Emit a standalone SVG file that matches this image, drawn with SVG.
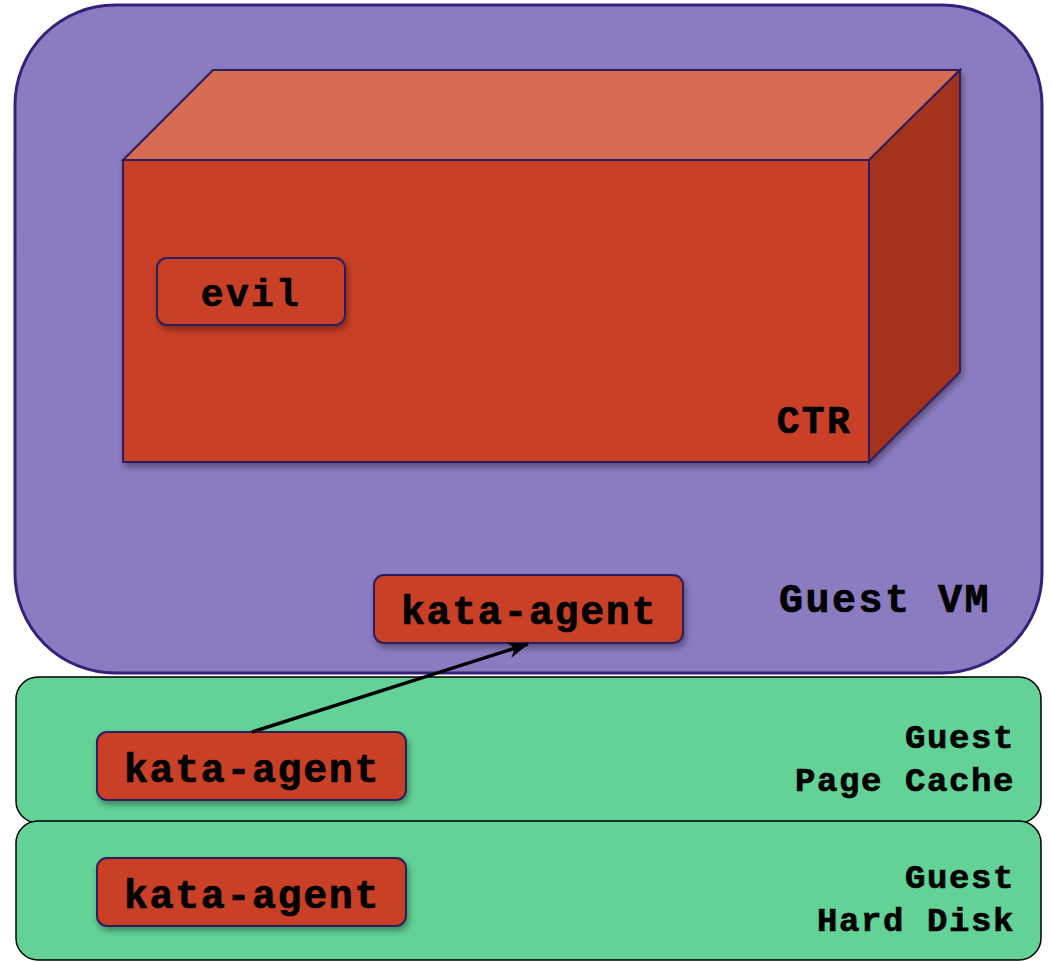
<svg xmlns="http://www.w3.org/2000/svg" width="1052" height="962" viewBox="0 0 1052 962">
<defs>
<filter id="sh" x="-10%" y="-10%" width="130%" height="140%">
<feDropShadow dx="2" dy="4" stdDeviation="3" flood-color="#000" flood-opacity="0.35"/>
</filter>
<marker id="arr" markerWidth="22" markerHeight="18" refX="20" refY="9" orient="auto" markerUnits="userSpaceOnUse">
<path d="M0,1 L21,9 L0,17 L6,9 Z" fill="#000"/>
</marker>
<style>
.t{font-family:"Courier New","Liberation Mono",monospace;font-weight:bold;fill:#000;stroke:#000;stroke-width:0.7}
.agent{fill:#c93f25;stroke:#2d1f5c;stroke-width:2}
.green{fill:#62d297;stroke:#000;stroke-width:1.5}
</style>
</defs>
<g id="guest-vm">
<rect x="15" y="5" width="1027" height="668" rx="100" ry="100" fill="#8b7bc1" stroke="#35207a" stroke-width="3"/>
<text class="t" x="991" y="612" font-size="40" letter-spacing="2.5" text-anchor="end">Guest VM</text>
</g>
<g id="ctr" filter="url(#sh)">
<polygon points="123,160 213,70 960,70 869,160" fill="#d66a52" stroke="#2d1f5c" stroke-width="2"/>
<polygon points="869,160 960,70 960,372 869,462" fill="#a5321f" stroke="#2d1f5c" stroke-width="2"/>
<rect x="123" y="160" width="746" height="302" fill="#c93f25" stroke="#2d1f5c" stroke-width="2"/>
</g>
<text class="t" x="852" y="433" font-size="38" letter-spacing="2.3" text-anchor="end">CTR</text>
<g id="evil">
<rect class="agent" x="157" y="258" width="188" height="67" rx="10" filter="url(#sh)"/>
<text class="t" x="251" y="306" font-size="38" letter-spacing="2.3" text-anchor="middle">evil</text>
</g>
<g id="kata-agent-vm">
<rect class="agent" x="374" y="575" width="309" height="68" rx="10" filter="url(#sh)"/>
<text class="t" x="529" y="624" font-size="40" letter-spacing="1.6" text-anchor="middle">kata-agent</text>
</g>
<g id="page-cache">
<rect class="green" x="16" y="677" width="1025" height="146" rx="22"/>
<text class="t" x="1015" y="748" font-size="34" letter-spacing="1.6" text-anchor="end">Guest</text>
<text class="t" x="1015" y="791" font-size="34" letter-spacing="1.6" text-anchor="end">Page Cache</text>
</g>
<g id="hard-disk">
<rect class="green" x="16" y="821" width="1025" height="139" rx="22"/>
<text class="t" x="1015" y="888" font-size="34" letter-spacing="1.6" text-anchor="end">Guest</text>
<text class="t" x="1015" y="931" font-size="34" letter-spacing="1.6" text-anchor="end">Hard Disk</text>
</g>
<g id="kata-agent-cache">
<rect class="agent" x="97" y="732" width="309" height="68" rx="10" filter="url(#sh)"/>
<text class="t" x="252" y="782" font-size="40" letter-spacing="1.6" text-anchor="middle">kata-agent</text>
</g>
<g id="kata-agent-disk">
<rect class="agent" x="97" y="858" width="309" height="68" rx="10" filter="url(#sh)"/>
<text class="t" x="252" y="908" font-size="40" letter-spacing="1.6" text-anchor="middle">kata-agent</text>
</g>
<g id="connectors">
<line x1="252" y1="732" x2="528" y2="644" stroke="#000" stroke-width="3.5" marker-end="url(#arr)"/>
</g>
</svg>
